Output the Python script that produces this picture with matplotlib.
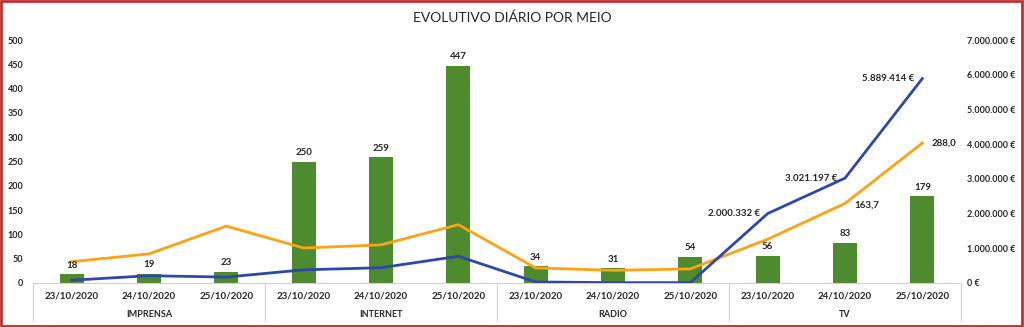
import matplotlib.pyplot as plt
import matplotlib.transforms as mtransforms
from matplotlib.patches import Rectangle
from matplotlib.ticker import FuncFormatter, MultipleLocator

plt.rcParams['font.family'] = ['Lato', 'DejaVu Sans']

meios = ["IMPRENSA", "INTERNET", "RADIO", "TV"]
datas = ["23/10/2020", "24/10/2020", "25/10/2020"]

# noticias por dia (barras, eixo esquerdo)
noticias = [18, 19, 23, 250, 259, 447, 34, 31, 54, 56, 83, 179]
# audiencia (linha laranja, eixo esquerdo)
audiencia = [43.8, 60.0, 117.0, 72.0, 78.5, 120.0, 31.0, 26.0, 29.0, 90.0, 163.7, 288.0]
# valor publicitario em euros (linha azul, eixo direito)
valor_eur = [80000, 210000, 170000, 380000, 440000, 770000,
             30000, 10000, 10000, 2000332, 3021197, 5889414]

GREEN = '#4e8a2e'
BLUE = '#2d48a6'
ORANGE = '#ffa214'
TXT = '#262626'


def euro(v, pos=None):
    return "{:,.0f} €".format(v).replace(",", ".")


fig = plt.figure(figsize=(10.24, 3.27), dpi=100)
ax = fig.add_axes([33 / 1024, 1 - 283 / 327, (961 - 33) / 1024, 243 / 327])
ax2 = ax.twinx()

n = len(noticias)
x = list(range(n))

ax.bar(x, noticias, width=0.31, color=GREEN, zorder=2)
ax.plot(x, audiencia, color=ORANGE, lw=2, zorder=3)
ax2.plot(x, valor_eur, color=BLUE, lw=2, zorder=3)

ax.set_xlim(-0.5, n - 0.5)
ax.set_ylim(0, 500)
ax2.set_ylim(0, 7000000)
ax.yaxis.set_major_locator(MultipleLocator(50))
ax2.yaxis.set_major_locator(MultipleLocator(1000000))
ax2.yaxis.set_major_formatter(FuncFormatter(euro))

for a in (ax, ax2):
    for s in a.spines.values():
        s.set_visible(False)
    a.tick_params(axis='y', length=0, labelsize=6.5, labelcolor=TXT)
ax.spines['bottom'].set_visible(True)
ax.spines['bottom'].set_color('#d0d0d0')
ax.tick_params(axis='y', pad=7)
ax2.tick_params(axis='y', pad=4.5)
for lbl in ax.get_yticklabels() + ax2.get_yticklabels():
    lbl.set_fontweight('bold')

ax.set_xticks([])
ax2.set_xticks([])
ax2.set_zorder(ax.get_zorder() + 1)
ax2.patch.set_visible(False)

# labels de data e meio por baixo do eixo
trans = mtransforms.blended_transform_factory(ax.transData, ax.transAxes)
for i in x:
    ax.text(i, -0.053, datas[i % 3], transform=trans, ha='center', va='center',
            fontsize=7, color=TXT, fontweight='bold')
for g, meio in enumerate(meios):
    ax.text(g * 3 + 1, -0.128, meio, transform=trans, ha='center', va='center',
            fontsize=6.5, color=TXT, fontweight='bold')
for g in range(len(meios) + 1):
    ax.plot([g * 3 - 0.5] * 2, [0, -0.152], transform=trans, color='#d0d0d0',
            lw=0.8, clip_on=False)

# valores das barras
for i, v in enumerate(noticias):
    ax.text(i, v + 9, str(v), ha='center', va='bottom', fontsize=7,
            color=TXT, fontweight='bold')

# labels das linhas no TV
for i in (9, 10, 11):
    ax2.text(i - 0.1, valor_eur[i], euro(valor_eur[i]), ha='right', va='center',
             fontsize=7, color=TXT, fontweight='bold')
for i in (10, 11):
    ax.text(i + 0.12, audiencia[i] - (4 if i == 10 else 0),
            "{:.1f}".format(audiencia[i]).replace(".", ","),
            ha='left', va='center', fontsize=7, color=TXT, fontweight='bold')

fig.text(0.5, 1 - 18 / 327, "EVOLUTIVO DIÁRIO POR MEIO", ha='center', va='center',
         fontsize=10, color=TXT)

fig.patches.append(Rectangle((0.001, 0.003), 0.997, 0.994, transform=fig.transFigure,
                             fill=False, edgecolor='#c0302e', lw=2))

fig.savefig("out.png", dpi=100)
